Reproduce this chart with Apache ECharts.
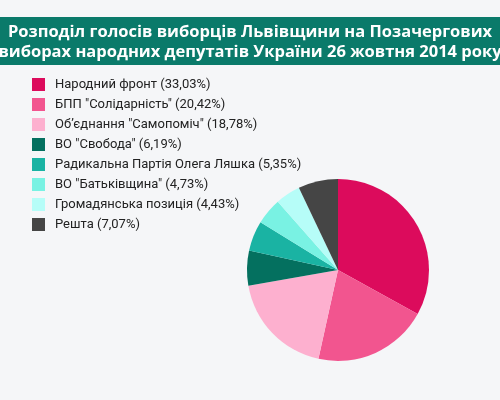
<!DOCTYPE html>
<html>
<head>
<meta charset="UTF-8">
<title>Львівщина 2014</title>
<script src="https://cdn.jsdelivr.net/npm/echarts@6/dist/echarts.min.js"></script>
<style>
  html, body { margin: 0; padding: 0; background: #f5f6f8; }
  #chart { width: 500px; height: 400px; }
</style>
</head>
<body>
<div id="chart"></div>
<script>
// партії та їх результати (%)
var parties = ['Народний фронт', 'БПП "Солідарність"', 'Об\u2019єднання "Самопоміч"', 'ВО "Свобода"',
  'Радикальна Партія Олега Ляшка', 'ВО "Батьківщина"', 'Громадянська позиція', 'Решта'];
var shares = [33.03, 20.42, 18.78, 6.19, 5.35, 4.73, 4.43, 7.07];
var colors = ['#dc0b5c', '#f2558f', '#fdb0cf', '#04705f', '#1ab3a3', '#79f2e3', '#b6fdf8', '#454545'];

var myChart = echarts.init(document.getElementById('chart'));

var pieData = [];
for (var i = 0; i < parties.length; i++) {
  pieData.push({ name: parties[i], value: shares[i], itemStyle: { color: colors[i] } });
}

var option = {
  backgroundColor: '#f5f6f8',
  // зелена смуга і заголовок
  graphic: [{
    type: 'rect',
    z: -1,
    shape: { x: 0, y: 17, width: 500, height: 48 },
    style: { fill: '#0a7a6a' }
  }, {
    type: 'text',
    x: 250,
    y: 22,
    style: {
      text: 'Розподіл голосів виборців Львівщини на Позачергових\nвиборах народних депутатів України 26 жовтня 2014 року',
      fill: '#ffffff',
      font: 'bold 16.5px "Open Sans"',
      lineHeight: 20,
      align: 'center',
      textAlign: 'center'
    }
  }],
  legend: {
    orient: 'vertical',
    left: 27,
    top: 73,
    itemWidth: 13,
    itemHeight: 13,
    itemGap: 7,
    icon: 'rect',
    data: parties,
    formatter: function (name) {
      var idx = parties.indexOf(name);
      return name + ' (' + shares[idx].toFixed(2).replace('.', ',') + '%)';
    },
    textStyle: { color: '#222', fontFamily: 'Roboto', fontSize: 13, padding: [0, 0, 0, 5] }
  },
  series: [{
    name: 'Результати',
    type: 'pie',
    radius: 91,
    center: [338, 270],
    startAngle: 90,
    clockwise: true,
    label: { show: false },
    labelLine: { show: false },
    itemStyle: { borderWidth: 0 },
    data: pieData
  }]
};

myChart.setOption(option);
</script>
</body>
</html>
